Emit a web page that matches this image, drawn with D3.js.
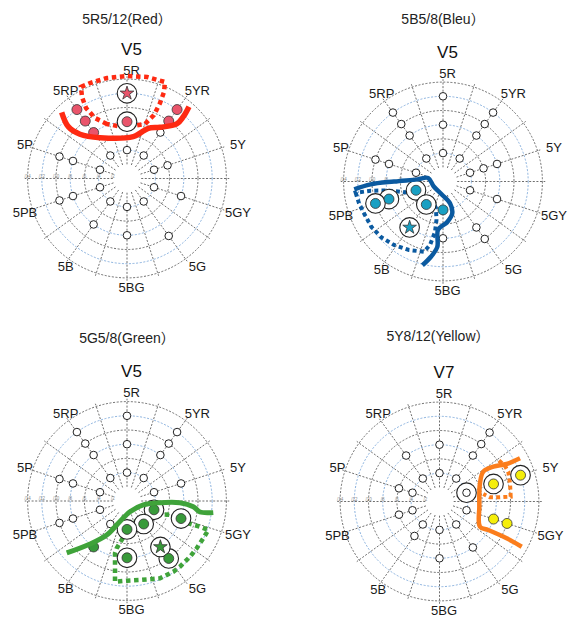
<!DOCTYPE html>
<html><head><meta charset="utf-8">
<script src="https://cdn.jsdelivr.net/npm/d3@7"></script>
<style>html,body{margin:0;padding:0;background:#fff}svg{display:block}</style>
</head><body><svg id="c" width="568" height="617"></svg>
<script>
// ---------- shared axis data ----------
const hueNames = ["5R","5YR","5Y","5GY","5G","5BG","5B","5PB","5P","5RP"];
const chromaRings = [2,4,6,8,10,12,14];
const chromaTickLabels = ["/2","/4","/6","/8","/10","/12","/14"];

// ---------- panel titles ----------
const titles = ["5R5/12(Red）","5B5/8(Bleu）","5G5/8(Green）","5Y8/12(Yellow）"];
const valueLabels = ["V5","V5","V5","V7"];

// ---------- markers: [hueIndex, chroma] / samples: [hueIndex, chroma, ringed] ----------
const redGrid = [[0,4],[1,4],[1,8],[2,4],[2,6],[3,4],[3,8],[4,4],[4,10],[5,4],[5,8],[6,4],[6,8],[7,4],[7,8],[7,10],[8,4],[8,8],[8,10],[9,4]];
const redSamples = [[1,10,0],[1,12,0],[9,8,0],[9,10,0],[9,12,0],[0,8,1]];
const redStars = [[0,12]];
const redOpenRinged = [];

const blueGrid = [[0,4],[0,8],[0,12],[9,4],[9,8],[9,10],[9,12],[1,4],[1,8],[1,10],[1,12],[8,4],[8,8],[8,10],[2,4],[2,6],[2,8],[3,4],[3,8],[4,8],[4,10],[5,8]];
const blueSamples = [[7,4,1],[7,8,1],[7,10,1],[6,4,1],[5,4,0]];
const blueStars = [[6,8]];
const blueOpenRinged = [];

const greenGrid = [[0,4],[0,8],[0,12],[9,4],[9,8],[9,10],[9,12],[1,4],[1,8],[1,10],[1,12],[8,4],[8,8],[8,10],[2,4],[2,8],[7,4],[7,8],[7,10],[6,4]];
const greenSamples = [[3,4,1],[4,4,1],[3,8,1],[5,4,1],[5,8,1],[4,10,1],[6,8,0]];
const greenStars = [[4,8]];
const greenOpenRinged = [];

const yellowGrid = [[0,4],[0,8],[1,4],[1,8],[1,10],[1,12],[9,4],[9,8],[8,4],[8,6],[7,4],[7,6],[6,4],[6,6],[5,4],[5,8],[4,4],[4,8],[3,4]];
const yellowSamples = [[2,8,1],[2,12,1],[3,8,0],[3,10,0]];
const yellowStars = [];
const yellowOpenRinged = [[2,4]];

// ---------- boundary lines in the chroma plane: [a, b] (chroma units) ----------
const redSolid = [[-9.2,9.32],[-8.27,7.3],[-6.62,6.23],[-3.8,5.75],[0.89,5.89],[1.83,6.37],[3.0,7.07],[4.65,7.21],[7.0,7.68],[7.93,8.7],[8.73,10.11]];
const redDotted = [[-2.82,7.68],[-4.51,8.52],[-5.77,9.93],[-6.34,11.48],[-6.48,12.89],[-5.21,13.45],[-2.82,14.15],[0,14.44],[2.82,14.3],[5.35,13.59],[5.21,12.18],[4.65,10.63],[3.8,8.94],[2.54,7.68],[0.85,7.39],[-1.27,7.39]];

const blueSolid = [[-12.5,-1.1],[-10.2,-0.4],[-6.9,0],[-3.6,0.3],[-2.1,0.5],[-1.3,-0.7],[-0.1,-1.9],[1.0,-3.1],[1.3,-4.5],[0.6,-5.7],[-0.7,-6.8],[-0.8,-9.2],[-1.7,-10.6],[-2.9,-11.8]];
const blueDotted = [[-12.3,-1.58],[-11.83,-3.07],[-11.13,-4.48],[-10.1,-6.37],[-8.69,-7.86],[-6.9,-8.94],[-4.79,-9.65],[-2.68,-9.89],[-1.83,-8.94],[-1.13,-7.11],[-0.92,-5.42],[-0.99,-3.73],[-1.55,-2.61],[-2.68,-2.11],[-4.65,-1.62],[-6.76,-1.34],[-8.31,-1.27],[-10.18,-1.3]];

const greenSolid = [[-8.49,-7.32],[-5.21,-6.06],[-2.86,-4.79],[-1.23,-3.14],[0.42,-1.51],[2.3,-0.56],[4.65,-0.24],[7.46,-0.24],[9.34,-0.8],[10.28,-1.55],[12.15,-1.62]];
const greenDotted = [[6.52,-1.97],[8.41,-3.06],[10.28,-3.62],[11.45,-4.08],[10.75,-5.25],[9.82,-6.66],[8.87,-7.85],[7.46,-9.25],[6.52,-9.96],[4.65,-10.89],[1.83,-11.13],[0,-11.23],[-1.69,-11.37],[-1.69,-9.25],[-1.69,-7.37],[-1.45,-6.66],[-0.42,-4.93],[0.99,-3.14],[1.83,-2.25],[3.94,-1.83]];

const yellowSolid = [[11.34,6.08],[9.46,5.28],[7.58,4.9],[6.17,4.2],[5.7,2.56],[5.61,-0.73],[5.7,-3.55],[6.87,-4.01],[9.46,-5.18],[11.58,-6.37]];
const yellowDotted = [[8.38,5.77],[9.23,5.0],[9.69,4.2],[9.93,2.56],[10.03,0.68],[8.52,0.59],[7.11,0.59],[6.17,1.06]];

// ---------- panel assembly ----------
const panels = [
  {title:titles[0], v:valueLabels[0], grid:redGrid, samples:redSamples, stars:redStars, openRinged:redOpenRinged, solid:redSolid, dotted:redDotted, dottedClosed:true, line:"#fe2a12", fill:"#e9546b", lw:5.5, dw:4.5},
  {title:titles[1], v:valueLabels[1], grid:blueGrid, samples:blueSamples, stars:blueStars, openRinged:blueOpenRinged, solid:blueSolid, dotted:blueDotted, dottedClosed:true, line:"#0b5aa0", fill:"#19a0c3", lw:4.5, dw:4},
  {title:titles[2], v:valueLabels[2], grid:greenGrid, samples:greenSamples, stars:greenStars, openRinged:greenOpenRinged, solid:greenSolid, dotted:greenDotted, dottedClosed:true, line:"#3fa33a", fill:"#389a3a", lw:5, dw:4.5},
  {title:titles[3], v:valueLabels[3], grid:yellowGrid, samples:yellowSamples, stars:yellowStars, openRinged:yellowOpenRinged, solid:yellowSolid, dotted:yellowDotted, dottedClosed:false, line:"#fb7d1c", fill:"#f5ee0a", lw:4.5, dw:4}
];
const layout = [
  {cx:127, cy:178.5, tx:127, ty:23.5},
  {cx:443, cy:181.5, tx:443, ty:23.5},
  {cx:127, cy:501, tx:127, ty:343},
  {cx:439.5, cy:501.5, tx:438, ty:341}
];

const FONT = "'Liberation Sans', Arial, 'Noto Sans CJK JP', sans-serif";
const R = 99.4;
const svg = d3.select("#c");
const rScale = d3.scaleLinear().domain([0,14]).range([0,R]);
const aScale = d3.scaleLinear().domain([0,hueNames.length]).range([0,2*Math.PI]);
const xScale = d3.scaleLinear().domain([-14,14]).range([-R,R]);
const yScale = d3.scaleLinear().domain([-14,14]).range([R,-R]);
const pol = (h,c) => [rScale(c)*Math.sin(aScale(h)), -rScale(c)*Math.cos(aScale(h))];

panels.forEach((p,i) => {
  const L = layout[i];
  svg.append("text").attr("x",L.tx).attr("y",L.ty).attr("text-anchor","middle")
    .attr("font-family",FONT).attr("font-size",14).attr("fill","#222").text(p.title);
  svg.append("text").attr("x",L.cx+4.5).attr("y",L.cy-124).attr("text-anchor","middle")
    .attr("font-family",FONT).attr("font-size",17).attr("fill","#111").text(p.v);

  const g = svg.append("g").attr("transform",`translate(${L.cx},${L.cy})`);
  // rings (the innermost one is the white centre hole)
  g.selectAll("circle.ring").data(chromaRings).join("circle").attr("class","ring")
    .attr("r",d=>rScale(d)).attr("fill",(d,j)=>j===0?"#fff":"none")
    .attr("stroke",(d,j)=> j===0 ? "none" : (j%2===1 ? "#6e9fd6" : "#4a4a4a"))
    .attr("stroke-width",0.8).attr("stroke-dasharray","2,1.6");
  // spokes (every half hue step)
  const spokes = d3.range(0,hueNames.length,0.5);
  g.selectAll("line.spoke").data(spokes).join("line").attr("class","spoke")
    .attr("x1",d=>pol(d,2)[0]).attr("y1",d=>pol(d,2)[1])
    .attr("x2",d=>pol(d,14.4)[0]).attr("y2",d=>pol(d,14.4)[1])
    .attr("stroke","#4a4a4a").attr("stroke-width",0.8).attr("stroke-dasharray","2,1.6");
  // chroma tick labels along the left horizontal spoke
  g.selectAll("text.tick").data(chromaRings).join("text").attr("class","tick")
    .attr("x",d=>-rScale(d)).attr("y",-1).attr("text-anchor","middle")
    .attr("font-family",FONT).attr("font-size",4.5).attr("fill","#8a8a8a")
    .text((d,j)=>chromaTickLabels[j]);
  // hue labels
  g.selectAll("text.hue").data(hueNames).join("text").attr("class","hue")
    .attr("x",(d,j)=>4.5+112*Math.sin(aScale(j)))
    .attr("y",(d,j)=>-108.5*Math.cos(aScale(j)))
    .attr("text-anchor","middle").attr("dominant-baseline","central")
    .attr("font-family",FONT).attr("font-size",13).attr("fill","#1a1a1a").text(d=>d);

  // dotted boundary
  const line = d3.line().x(d=>xScale(d[0])).y(d=>yScale(d[1]));
  g.append("path").datum(p.dotted)
    .attr("d", line.curve(p.dottedClosed ? d3.curveLinearClosed : d3.curveLinear)(p.dotted))
    .attr("fill","none").attr("stroke",p.line).attr("stroke-width",p.dw)
    .attr("stroke-dasharray",`${p.dw},${p.dw*0.8}`).attr("stroke-linejoin","miter");

  // open grid circles
  g.selectAll("circle.grid").data(p.grid).join("circle").attr("class","grid")
    .attr("cx",d=>pol(d[0],d[1])[0]).attr("cy",d=>pol(d[0],d[1])[1]).attr("r",3.8)
    .attr("fill","#fff").attr("stroke","#222").attr("stroke-width",1);

  // rings around highlighted points
  const ringed = p.samples.filter(d=>d[2]).concat(p.stars).concat(p.openRinged);
  g.selectAll("circle.halo").data(ringed).join("circle").attr("class","halo")
    .attr("cx",d=>pol(d[0],d[1])[0]).attr("cy",d=>pol(d[0],d[1])[1]).attr("r",9.8)
    .attr("fill","#fff").attr("stroke","#222").attr("stroke-width",1.1);
  g.selectAll("circle.openr").data(p.openRinged).join("circle").attr("class","openr")
    .attr("cx",d=>pol(d[0],d[1])[0]).attr("cy",d=>pol(d[0],d[1])[1]).attr("r",3.8)
    .attr("fill","#fff").attr("stroke","#222").attr("stroke-width",1);

  // filled samples
  g.selectAll("circle.sample").data(p.samples).join("circle").attr("class","sample")
    .attr("cx",d=>pol(d[0],d[1])[0]).attr("cy",d=>pol(d[0],d[1])[1]).attr("r",5)
    .attr("fill",p.fill).attr("stroke","#333").attr("stroke-width",0.8);
  // stars
  g.selectAll("path.star").data(p.stars).join("path").attr("class","star")
    .attr("transform",d=>`translate(${pol(d[0],d[1])[0]},${pol(d[0],d[1])[1]})`)
    .attr("d",d3.symbol(d3.symbolStar,58)())
    .attr("fill",p.fill).attr("stroke","#333").attr("stroke-width",0.8);

  // solid boundary
  g.append("path").datum(p.solid)
    .attr("d", d3.line().x(d=>xScale(d[0])).y(d=>yScale(d[1])).curve(d3.curveCatmullRom)(p.solid))
    .attr("fill","none").attr("stroke",p.line).attr("stroke-width",p.lw)
    .attr("stroke-linecap","butt").attr("stroke-linejoin","round");
});
</script></body></html>
